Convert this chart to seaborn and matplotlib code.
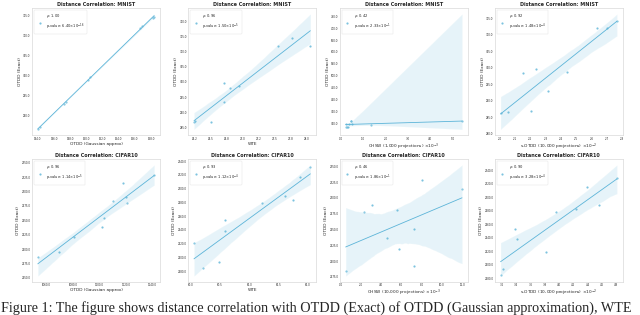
import numpy as np
import pandas as pd
import matplotlib
matplotlib.use('Agg')
import matplotlib.pyplot as plt
import seaborn as sns
from matplotlib.ticker import MultipleLocator, FormatStrFormatter

sns.set_theme(style='whitegrid', rc={'axes.grid': False, 'axes.edgecolor': '.85',
                                     'axes.linewidth': 0.5})
plt.rcParams['font.family'] = ['DejaVu Sans']

# ---- data ----
datasets = ['MNIST'] * 4 + ['CIFAR10'] * 4
xlabels = [
    'OTDD (Gaussian approx)', 'WTE',
    r'CHSW (1,000 projections) $\times10^{-3}$', r's-OTDD (10,000 projections) $\times10^{-2}$',
    'OTDD (Gaussian approx)', 'WTE',
    r'CHSW (10,000 projections) $\times10^{-3}$', r's-OTDD (10,000 projections) $\times10^{-2}$',
]

# MNIST
x_mnist_gauss = [144.0, 144.3, 147.2, 147.5, 150.2, 150.5, 156.6, 156.9, 158.2, 158.4]
y_mnist_gauss = [286.7, 287.2, 293.1, 293.6, 299.1, 299.7, 311.9, 312.4, 314.4, 314.7]
x_mnist_wte = [26.235, 26.25, 26.50, 26.71, 26.71, 26.80, 26.93, 27.55, 27.76, 28.05]
y_mnist_wte = [286.6, 287.2, 286.9, 299.7, 293.2, 298.1, 298.6, 312.0, 314.4, 312.0]
x_mnist_chsw = [0.22, 0.25, 0.27, 0.34, 0.36, 0.44, 0.47, 0.49, 1.37, 5.42]
y_mnist_chsw = [298.0, 286.5, 287.0, 285.0, 299.0, 311.0, 312.6, 300.0, 292.0, 311.0]
x_mnist_sotdd = [2.006, 2.054, 2.15, 2.206, 2.236, 2.318, 2.44, 2.636, 2.70, 2.766]
y_mnist_sotdd = [286.2, 286.7, 298.4, 286.9, 299.7, 293.0, 298.6, 312.0, 312.2, 314.2]

# CIFAR10
x_cifar_gauss = [1053.7, 1069.4, 1080.8, 1102.3, 1103.8, 1110.1, 1118.2, 1120.2, 1120.8, 1141.3]
y_cifar_gauss = [2185.9, 2194.8, 2220.6, 2239.1, 2253.6, 2283.3, 2315.3, 2289.5, 2279.4, 2328.7]
x_cifar_wte = [60.05, 60.20, 60.48, 60.59, 60.59, 61.22, 61.61, 61.75, 61.87, 62.05]
y_cifar_wte = [2220.4, 2185.2, 2193.6, 2238.7, 2253.7, 2279.1, 2289.4, 2283.8, 2316.6, 2330.7]
x_cifar_chsw = [0.5, 2.3, 3.05, 4.6, 5.53, 5.76, 7.28, 7.28, 8.0, 11.98]
y_cifar_chsw = [2183.7, 2277.0, 2288.3, 2236.2, 2281.6, 2218.4, 2251.5, 2192.3, 2328.0, 2313.8]
x_cifar_sotdd = [3.18, 3.215, 3.38, 3.41, 3.81, 3.95, 4.24, 4.39, 4.56, 4.81]
y_cifar_sotdd = [2184.7, 2194.1, 2253.4, 2237.6, 2219.8, 2277.6, 2283.3, 2314.8, 2288.9, 2328.9]

xs = [x_mnist_gauss, x_mnist_wte, x_mnist_chsw, x_mnist_sotdd,
      x_cifar_gauss, x_cifar_wte, x_cifar_chsw, x_cifar_sotdd]
ys = [y_mnist_gauss, y_mnist_wte, y_mnist_chsw, y_mnist_sotdd,
      y_cifar_gauss, y_cifar_wte, y_cifar_chsw, y_cifar_sotdd]

rhos = [1.00, 0.96, 0.42, 0.92, 0.96, 0.93, 0.46, 0.90]
pvals = [6.40e-16, 1.50e-5, 2.33e-1, 1.48e-4, 1.14e-5, 1.12e-4, 1.86e-1, 3.28e-4]

x_steps = [2.0, 0.25, 1.0, 0.1, 20.0, 0.5, 2.0, 0.2]
y_steps = [5.0, 5.0, 50.0, 5.0, 25.0, 20.0, 25.0, 20.0]

color = '#5cb4d8'


def fmt_p(p):
    exp = int(np.floor(np.log10(p)))
    man = p / 10 ** exp
    return rf'{man:.2f}$\times10^{{{exp}}}$'


fig = plt.figure(figsize=(6.4, 3.15), dpi=100)
lefts = [0.05, 0.294, 0.531, 0.773]
bottoms = [0.571, 0.106]
w, h = 0.2, 0.388

for i in range(8):
    r, c = divmod(i, 4)
    ax = fig.add_axes([lefts[c], bottoms[r], w, 0.403 if r == 0 else h])
    df = pd.DataFrame({'x': xs[i], 'y': ys[i]})
    label = rf'$\rho$: {rhos[i]:.2f}' + '\np-value: ' + fmt_p(pvals[i])
    sns.regplot(data=df, x='x', y='y', ax=ax, color=color, seed=1,
                scatter_kws={'s': 2.5, 'linewidths': 0},
                line_kws={'linewidth': 0.6}, label=label)
    ax.set_title(f'Distance Correlation: {datasets[i]}', fontsize=3.5,
                 fontweight='bold', pad=1.5)
    ax.set_xlabel(xlabels[i], fontsize=3.1, labelpad=0.8)
    ax.set_ylabel('OTDD (Exact)', fontsize=3.1, labelpad=1)
    ax.xaxis.set_major_locator(MultipleLocator(x_steps[i]))
    ax.yaxis.set_major_locator(MultipleLocator(y_steps[i]))
    ax.xaxis.set_major_formatter(FormatStrFormatter('%.1f'))
    ax.yaxis.set_major_formatter(FormatStrFormatter('%.1f'))
    ax.tick_params(labelsize=1.9, pad=1, length=0)
    leg = ax.legend(loc='upper left', fontsize=2.6, frameon=True,
                    handletextpad=0.8, borderpad=0.6, markerscale=1.0)
    leg.get_frame().set_linewidth(0.3)
    leg.get_frame().set_edgecolor('.85')

fig.text(0.002, 0.0,
         'Figure 1: The figure shows distance correlation with OTDD (Exact) of '
         'OTDD (Gaussian approximation), WTE',
         family='Liberation Serif', fontsize=10.2, ha='left', va='bottom')

fig.savefig('out.png', dpi=100)
